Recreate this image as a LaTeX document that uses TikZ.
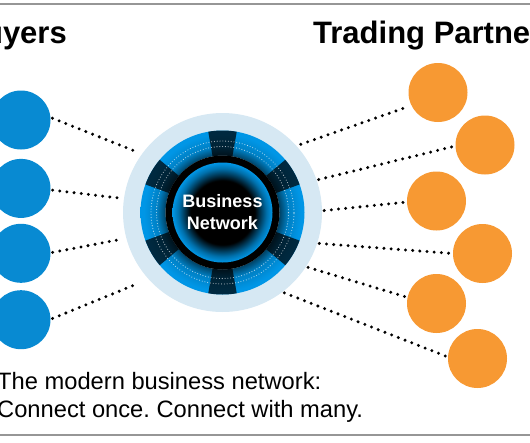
\documentclass[tikz,border=0pt]{standalone}
\usepackage{fontspec}
\setmainfont{Liberation Sans}
\usepackage{tikz}
\usetikzlibrary{positioning,calc}
\frenchspacing

\definecolor{buyerblue}{RGB}{8,138,210}
\definecolor{partnerorange}{RGB}{247,153,51}
\definecolor{ringlight}{RGB}{214,232,243}
\definecolor{netblue}{RGB}{0,150,230}
\definecolor{framegray}{RGB}{150,150,150}

\pgfdeclareradialshading{coreglow}{\pgfpoint{0bp}{0bp}}{color(0bp)=(black); color(16bp)=(black); color(22bp)=(netblue!75!black); color(25bp)=(netblue); color(50bp)=(netblue)}
\pgfdeclareradialshading{ringglow}{\pgfpoint{0bp}{0bp}}{color(0bp)=(black); color(17.4bp)=(netblue!45!black); color(20bp)=(netblue!85!black); color(24bp)=(netblue); color(50bp)=(netblue)}

\begin{document}
\begin{tikzpicture}[x=1pt, y=1pt,
    buyer/.style={circle, fill=buyerblue, minimum size=59pt, inner sep=0pt},
    partner/.style={circle, fill=partnerorange, minimum size=59pt, inner sep=0pt},
    link/.style={line width=3.3pt, line cap=round, dash pattern=on 0pt off 7.2pt, shorten <=2pt, shorten >=2pt},
    title/.style={font=\bfseries\fontsize{31}{37}\selectfont, inner sep=0pt},
    caption/.style={font=\fontsize{23.7}{28}\selectfont, inner sep=0pt, anchor=base west}]
            \useasboundingbox (0,0) rectangle (530,-442);
            \clip (0,0) rectangle (530,-442);

            \draw [framegray, line width=1.2pt] (0,-4) -- (530,-4);
            \draw [framegray, line width=1.2pt] (0,-435) -- (530,-435);

            \node (buyers) [title, anchor=base east] at (67,-43) {Buyers};
            \node (partners) [title, anchor=base west] at (313,-43) {Trading Partners};

            % hub
            \node (hub) [circle, fill=ringlight, minimum size=199pt, inner sep=0pt] at (222.5,-212.5) {};
            \begin{scope}[shift={(hub.center)}]
                \shade [shading=ringglow, even odd rule] (0,0) circle (82) (0,0) circle (57);
                \foreach \a in {90,150,210,270,330,30}
                    \fill [black, opacity=0.72] (\a-10:57) arc[start angle=\a-10, end angle=\a+10, radius=57]
                        -- (\a+10:82) arc[start angle=\a+10, end angle=\a-10, radius=82] -- cycle;
                \draw [white, opacity=0.7, line width=1.1pt, line cap=round, dash pattern=on 0pt off 2.8pt] (0,0) circle (66);
                \draw [white, opacity=0.7, line width=1.1pt, line cap=round, dash pattern=on 0pt off 2.8pt] (0,0) circle (71.5);
                \fill [black] (0,0) circle (57);
            \end{scope}
            \node (core) [circle, shade, shading=coreglow, minimum size=100pt, inner sep=0pt, text=white, align=center,
                font=\bfseries\fontsize{18}{22}\selectfont] at (hub.center) {Business\\Network};

            % buyers
            \node (b1) [buyer] at (21,-120) {};
            \node (b2) [buyer, below=9pt of b1] {};
            \node (b3) [buyer, below=5.5pt of b2] {};
            \node (b4) [buyer, below=7pt of b3] {};

            % trading partners
            \node (o1) [partner] at (438,-92.5) {};
            \node (o2) [partner] at (485,-145) {};
            \node (o3) [partner] at (436.5,-201) {};
            \node (o4) [partner] at (482.5,-253.5) {};
            \node (o5) [partner] at (436.5,-303.5) {};
            \node (o6) [partner] at (477.5,-358.5) {};

            \draw [link, shorten >=8pt] (b1.5) -- (hub.144.5);
            \draw [link, shorten >=6pt] (b2.-3) -- (hub.172);
            \draw [link, shorten >=9.5pt] (b3.1) -- (hub.195);
            \draw [link, shorten >=11.5pt] (b4.1) -- (hub.222);

            \draw [link, shorten <=4.5pt, shorten >=3pt] (hub.42) -- (o1.206);
            \draw [link] (hub.19) -- (o2.182);
            \draw [link] (hub.1.5) -- (o3.182);
            \draw [link] (hub.-18) -- (o4.180);
            \draw [link] (hub.-33) -- (o5.168);
            \draw [link] (hub.-53) -- (o6.177);

            \node (cap1) [caption] at (-3,-389) {The modern business network:};
            \node (cap2) [caption] at (-3,-417) {Connect once. Connect with many.};
\end{tikzpicture}
\end{document}
